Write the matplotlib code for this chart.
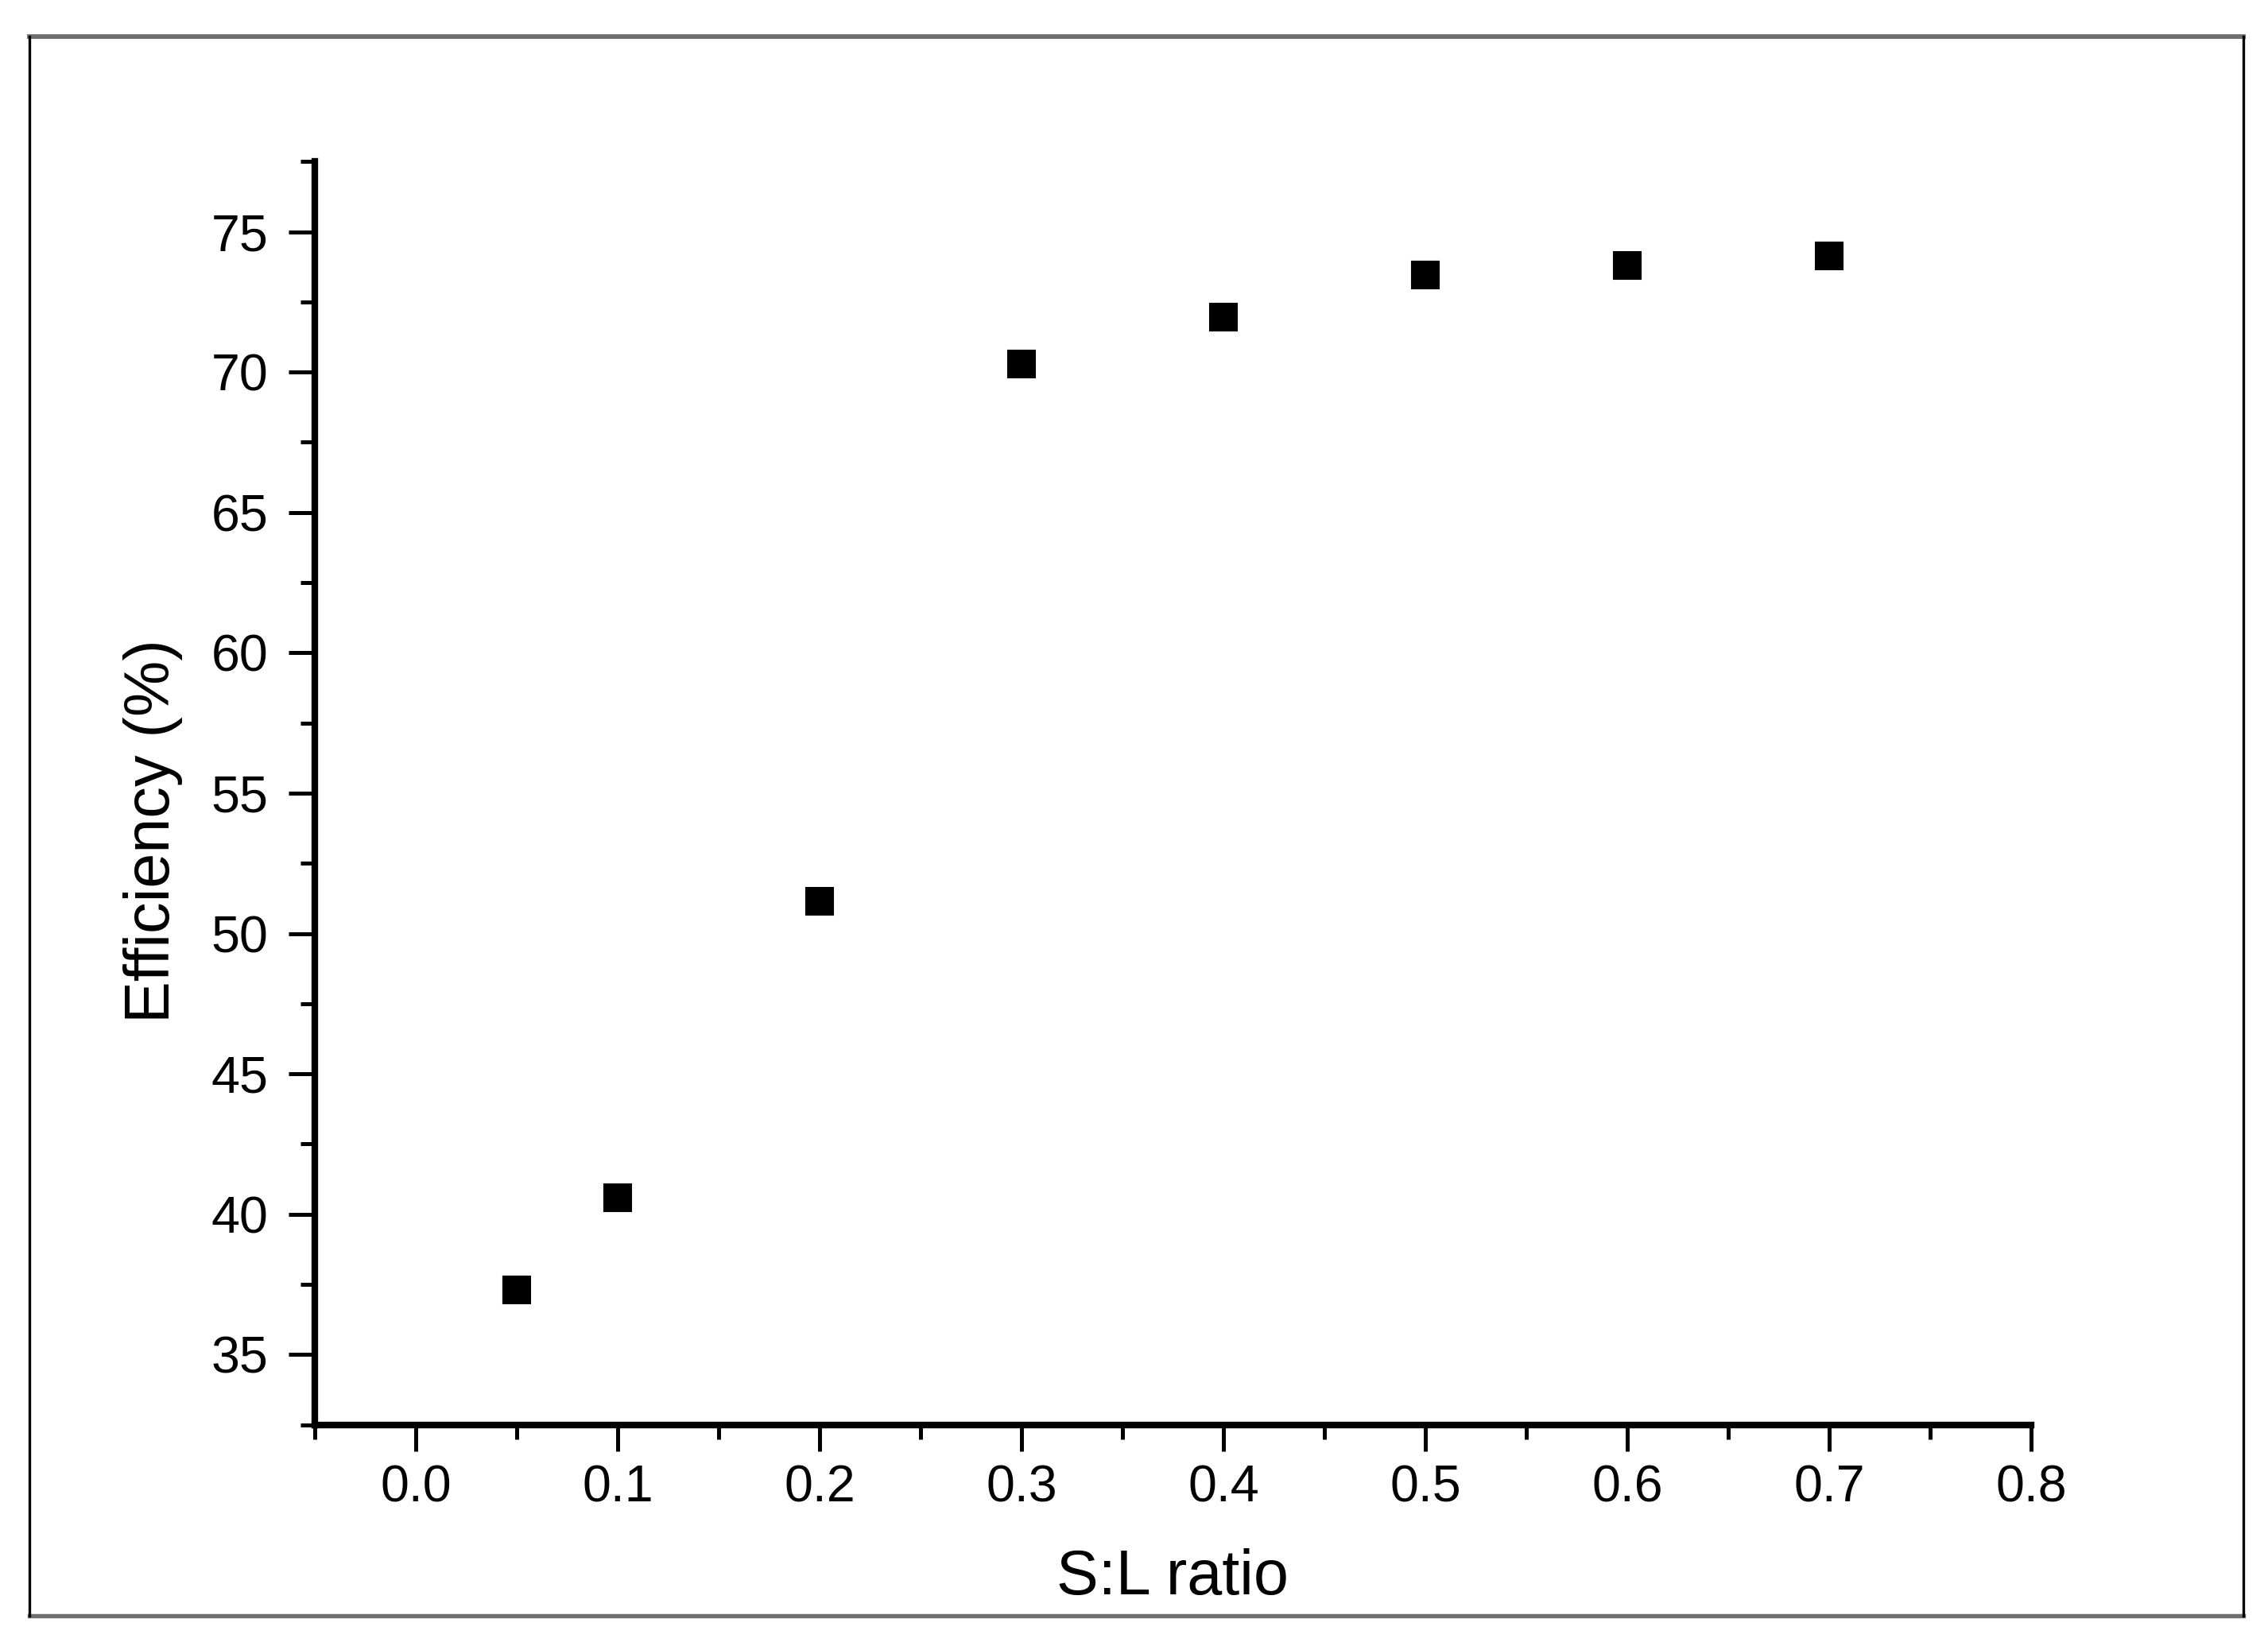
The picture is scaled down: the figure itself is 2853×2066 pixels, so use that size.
import matplotlib
matplotlib.use("Agg")
import matplotlib.pyplot as plt
from matplotlib.ticker import MultipleLocator, FormatStrFormatter
from matplotlib.lines import Line2D

plt.rcParams["font.family"] = ["Liberation Sans", "DejaVu Sans"]

# S:L ratio vs efficiency
sl_ratio = [0.05, 0.1, 0.2, 0.3, 0.4, 0.5, 0.6, 0.7]
efficiency = [37.3, 40.6, 51.15, 70.3, 71.95, 73.45, 73.8, 74.15]

fig = plt.figure(figsize=(2853 / 300, 2066 / 300), dpi=300)
ax = fig.add_axes([0.1388, 0.1323, 0.8955 - 0.1388, 0.9016 - 0.1323])

ax.plot(sl_ratio, efficiency, "s", color="black", markersize=8,
        markeredgewidth=0.5, linestyle="none")

ax.set_xlim(-0.05, 0.8)
ax.set_ylim(32.5, 77.5)
ax.xaxis.set_major_locator(MultipleLocator(0.1))
ax.xaxis.set_minor_locator(MultipleLocator(0.05))
ax.yaxis.set_major_locator(MultipleLocator(5))
ax.yaxis.set_minor_locator(MultipleLocator(2.5))
ax.xaxis.set_major_formatter(FormatStrFormatter("%.1f"))
ax.yaxis.set_major_formatter(FormatStrFormatter("%d"))

for side in ["top", "right"]:
    ax.spines[side].set_visible(False)
for side in ["left", "bottom"]:
    ax.spines[side].set_linewidth(2.0)

ax.tick_params(which="major", direction="out", length=8, width=1.2,
               labelsize=15.5, colors="black")
ax.tick_params(which="minor", direction="out", length=4.3, width=1.2)
ax.tick_params(axis="x", which="major", pad=4)
ax.tick_params(axis="y", which="major", pad=6)

ax.set_xlabel("S:L ratio", fontsize=19)
ax.set_ylabel("Efficiency (%)", fontsize=19)
ax.xaxis.set_label_coords(0.5, -0.098)
ax.yaxis.set_label_coords(-0.077, 0.47)

# outer frame around the whole figure
l, r, b, t = 37 / 2853, 2822 / 2853, 1 - 2033 / 2066, 1 - 46 / 2066
fig.add_artist(Line2D([l, r], [t, t], transform=fig.transFigure,
                      color="#6e6e6e", linewidth=1.4))
fig.add_artist(Line2D([l, r], [b, b], transform=fig.transFigure,
                      color="#6e6e6e", linewidth=1.3))
fig.add_artist(Line2D([l, l], [b, t], transform=fig.transFigure,
                      color="black", linewidth=0.8))
fig.add_artist(Line2D([r, r], [b, t], transform=fig.transFigure,
                      color="black", linewidth=0.8))

fig.savefig("out.png", dpi=300)
